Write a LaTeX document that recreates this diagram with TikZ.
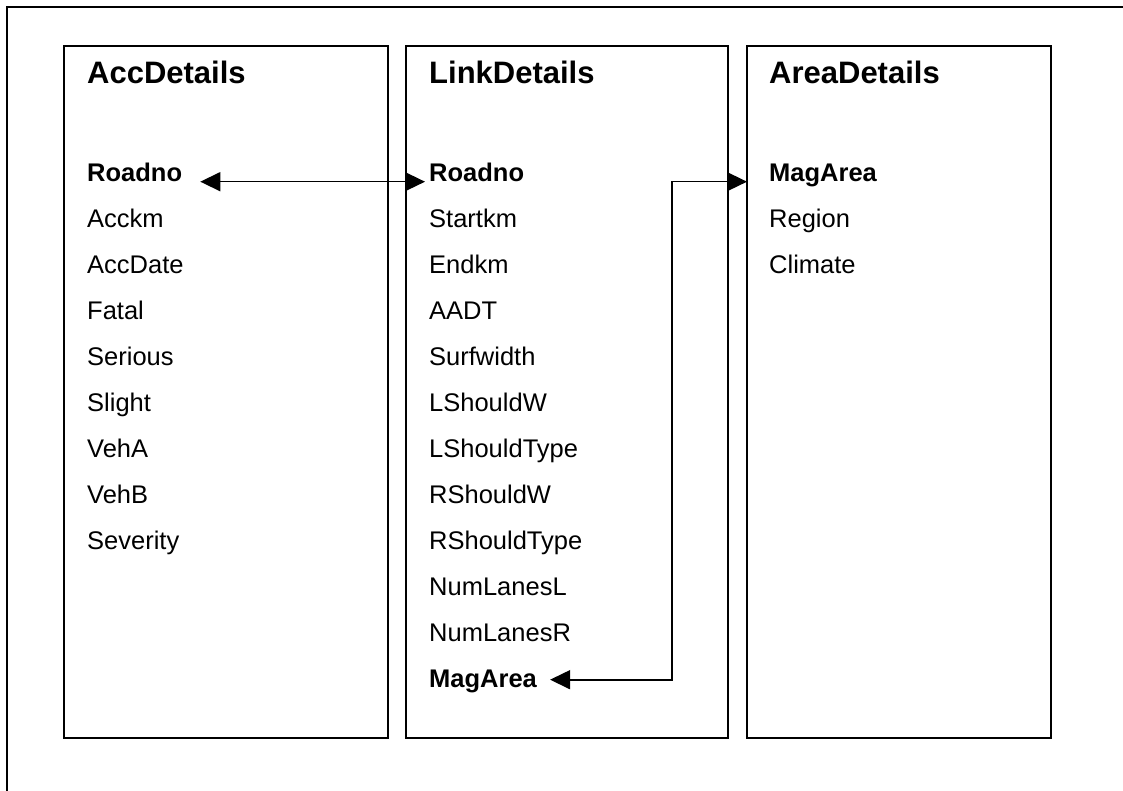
\documentclass[tikz,border=0pt]{standalone}
\usepackage{fontspec}
\setmainfont{Liberation Sans}
\usetikzlibrary{arrows.meta}
\tikzset{
  tbltitle/.style={anchor=base west, inner sep=0pt, font=\fontsize{31}{37}\selectfont\bfseries},
  fld/.style={anchor=base west, inner sep=0pt, font=\fontsize{25.5}{30}\selectfont},
  keyfld/.style={fld, font=\fontsize{25.5}{30}\selectfont\bfseries},
  tblbox/.style={line width=1.6pt},
  relarrow/.style={line width=1.6pt, {Triangle[length=20pt,width=19pt]}-{Triangle[length=20pt,width=19pt]}},
}
\begin{document}
\begin{tikzpicture}[x=1pt, y=-1pt]
    \useasboundingbox (0,0) rectangle (1123,791);
    % outer frame (left and top only)
    \draw[line width=1.6pt] (7,791) -- (7,7) -- (1123,7);
    % table boxes
    \draw[tblbox] (64,46) rectangle (388,738);
    \draw[tblbox] (406,46) rectangle (728,738);
    \draw[tblbox] (747,46) rectangle (1051,738);
    % titles
    \node[tbltitle] (accTitle) at (87,84) {AccDetails};
    \node[tbltitle] (linkTitle) at (429,84) {LinkDetails};
    \node[tbltitle] (areaTitle) at (769,84) {AreaDetails};
    % AccDetails fields
    \node[keyfld] (accRoadno) at (87,181.7) {Roadno};
    \foreach \f [count=\i] in {Acckm,AccDate,Fatal,Serious,Slight,VehA,VehB,Severity}
      \node[fld] (acc\i) at (87,181.7+46*\i) {\f};
    % LinkDetails fields
    \node[keyfld] (linkRoadno) at (429,181.7) {Roadno};
    \foreach \f [count=\i] in {Startkm,Endkm,AADT,Surfwidth,LShouldW,LShouldType,RShouldW,RShouldType,NumLanesL,NumLanesR}
      \node[fld] (link\i) at (429,181.7+46*\i) {\f};
    \node[keyfld] (linkMagArea) at (429,687.7) {MagArea};
    % AreaDetails fields
    \node[keyfld] (areaMagArea) at (769,181.7) {MagArea};
    \node[fld] (areaRegion) at (769,227.7) {Region};
    \node[fld] (areaClimate) at (769,273.7) {Climate};
    % relations
    \draw[relarrow] ([xshift=18pt]accRoadno.base east) -- ([xshift=-4pt]linkRoadno.base west);
    \draw[relarrow] ([xshift=13pt,yshift=8pt]linkMagArea.base east)
      -| ([xshift=-97pt]areaMagArea.base west) -- ([xshift=-22pt]areaMagArea.base west);
\end{tikzpicture}
\end{document}
